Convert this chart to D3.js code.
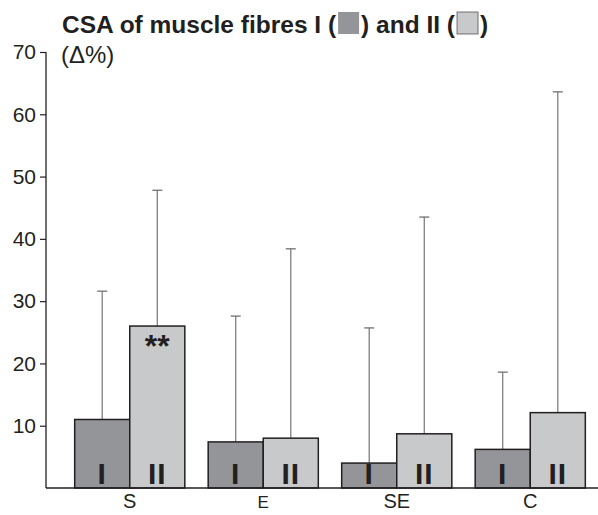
<!DOCTYPE html>
<html>
<head>
<meta charset="utf-8">
<script src="https://cdn.jsdelivr.net/npm/d3@7"></script>
<style>
  body { margin: 0; background: #fff; }
  svg { display: block; font-family: "Liberation Sans", Arial, sans-serif; }
</style>
</head>
<body>
<svg id="chart" width="598" height="515"></svg>
<script>
// data
const groups = ["S", "E", "SE", "C"];
const fibreTypes = ["I", "II"];
const meanI = [11.0, 7.4, 4.0, 6.2];
const meanII = [26.0, 8.0, 8.7, 12.1];
const upperI = [31.6, 27.6, 25.7, 18.6];   // top of error bar
const upperII = [47.8, 38.4, 43.5, 63.6];
const yTicks = [10, 20, 30, 40, 50, 60, 70];
const marks = ["**", "", "", ""];          // significance over type II

const rows = [];
groups.forEach((g, i) => {
    rows.push({ g, type: "I", v: meanI[i], up: upperI[i], mark: "" });
    rows.push({ g, type: "II", v: meanII[i], up: upperII[i], mark: marks[i] });
});

const ink = "#231f20";
const fills = { I: "#939598", II: "#c8c9cb" };

const svg = d3.select("#chart");

const x = d3.scaleBand().domain(groups).range([63, 597]).paddingInner(0.175).paddingOuter(0.0875);
const xi = d3.scaleBand().domain(fibreTypes).range([0, x.bandwidth()]);
const y = d3.scaleLinear().domain([0, 70]).range([488, 52]);

/* error bars (drawn first, bars cover the lower part) */
const err = svg.append("g");
rows.forEach(d => {
    const cx = x(d.g) + xi(d.type) + xi.bandwidth() / 2;
    err.append("line").attr("x1", cx).attr("x2", cx)
        .attr("y1", y(d.v)).attr("y2", y(d.up))
        .attr("stroke", "#808080").attr("stroke-width", 1.3);
    err.append("line").attr("x1", cx - 5).attr("x2", cx + 5)
        .attr("y1", y(d.up)).attr("y2", y(d.up))
        .attr("stroke", "#707070").attr("stroke-width", 1.3);
});

/* bars */
svg.append("g").selectAll("rect").data(rows).join("rect")
    .attr("x", d => x(d.g) + xi(d.type))
    .attr("y", d => y(d.v))
    .attr("width", xi.bandwidth())
    .attr("height", d => y(0) - y(d.v))
    .attr("fill", d => fills[d.type])
    .attr("stroke", ink).attr("stroke-width", 1.5);

/* I / II labels inside the bars */
svg.append("g").selectAll("text").data(rows).join("text")
    .attr("x", d => x(d.g) + xi(d.type) + xi.bandwidth() / 2)
    .attr("y", y(0) - 4)
    .attr("text-anchor", "middle")
    .attr("font-size", 30).attr("font-weight", "bold")
    .attr("letter-spacing", 1)
    .attr("fill", ink)
    .text(d => d.type);

/* significance stars */
svg.append("g").selectAll("text").data(rows.filter(d => d.mark)).join("text")
    .attr("x", d => x(d.g) + xi(d.type) + xi.bandwidth() / 2)
    .attr("y", d => y(d.v) + 31)
    .attr("text-anchor", "middle")
    .attr("font-size", 32).attr("font-weight", "bold")
    .attr("fill", ink)
    .text(d => d.mark);

/* y axis */
const yAxis = svg.append("g").attr("transform", "translate(46,0)")
    .call(d3.axisLeft(y).tickValues(yTicks).tickSize(6).tickPadding(4).tickSizeOuter(0));
yAxis.select(".domain").attr("stroke", ink).attr("stroke-width", 1.3)
    .attr("d", `M0,${y(70)}V${y(0)}`);
yAxis.selectAll(".tick line").attr("stroke", ink).attr("stroke-width", 1.2);
yAxis.selectAll(".tick text").attr("font-size", 21).attr("fill", ink)
    .attr("font-family", "Liberation Sans, Arial, sans-serif");

/* x axis */
const xAxis = svg.append("g").attr("transform", `translate(0,${y(0)})`)
    .call(d3.axisBottom(x).tickSize(0).tickPadding(6));
xAxis.select(".domain").attr("stroke", ink).attr("stroke-width", 1.6)
    .attr("d", "M46,0H598");
xAxis.selectAll(".tick text")
    .attr("font-size", d => d === "E" ? 17 : 20)
    .attr("dy", d => d === "E" ? "0.8em" : "0.71em")
    .attr("fill", ink)
    .attr("font-family", "Liberation Sans, Arial, sans-serif");

/* title with inline legend squares */
const title = svg.append("g").attr("font-size", 24.5).attr("font-weight", "bold").attr("fill", ink);
const parts = ["CSA of muscle fibres I (", ") and II (", ")"];
let tx = 62;
parts.forEach((p, i) => {
    const t = title.append("text").attr("x", tx).attr("y", 33).text(p);
    tx += t.node().getComputedTextLength();
    if (i < 2) {
        const type = fibreTypes[i];
        title.append("rect")
            .attr("x", tx + 2).attr("y", 12).attr("width", 21).attr("height", 22)
            .attr("fill", fills[type])
            .attr("stroke", type === "II" ? "#555" : "none").attr("stroke-width", 0.8);
        tx += 25;
    }
});

svg.append("text").attr("x", 61).attr("y", 63)
    .attr("font-size", 24).attr("fill", ink)
    .text("(Δ%)");
</script>
</body>
</html>
